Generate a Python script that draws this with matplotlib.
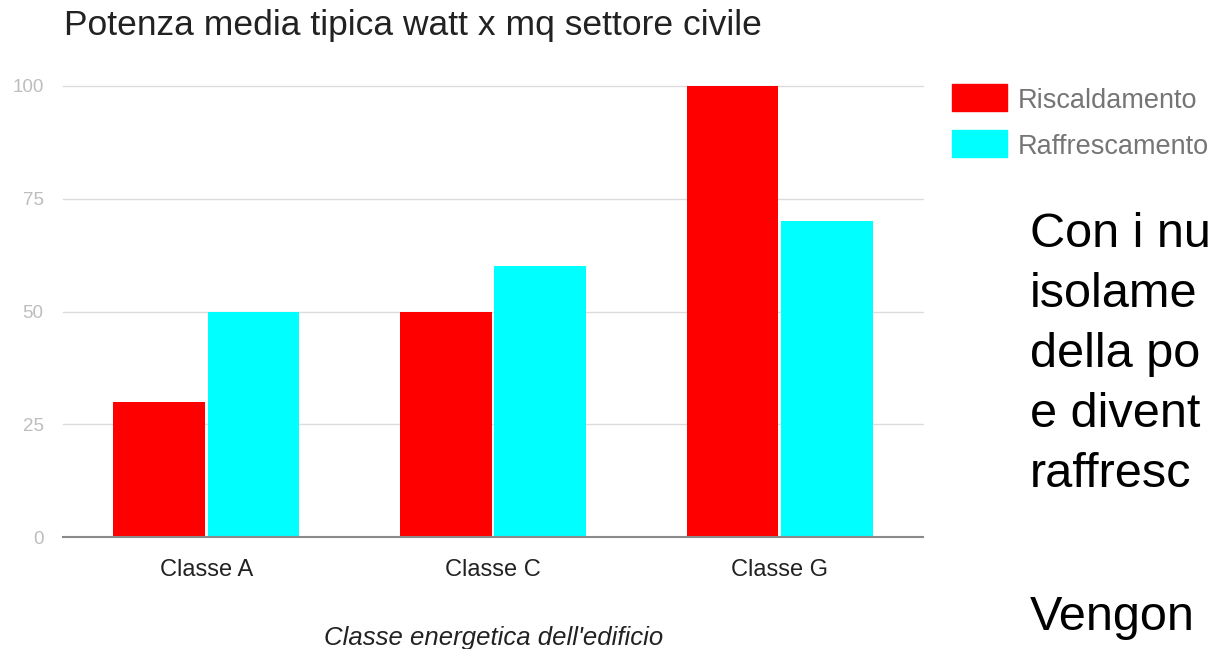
import matplotlib
matplotlib.use("Agg")
import matplotlib.pyplot as plt
import numpy as np
from matplotlib.patches import Rectangle

categories = ["Classe A", "Classe C", "Classe G"]
riscaldamento = [30, 50, 100]
raffrescamento = [50, 60, 70]
series_names = ["Riscaldamento", "Raffrescamento"]
series_colors = ["#ff0000", "#00ffff"]
yticks = [0, 25, 50, 75, 100]
title = "Potenza media tipica watt x mq settore civile"
xlabel = "Classe energetica dell'edificio"
side_lines = ["Con i nu", "isolame", "della po", "e divent", "raffresc"]
side_last = "Vengon"

plt.rcParams['font.family'] = ['Liberation Sans', 'DejaVu Sans']

W, H = 1216, 649
fig = plt.figure(figsize=(W/100, H/100), dpi=100)
ax = fig.add_axes([63/W, 1-537/H, (923-63)/W, (537-86)/H])

x = np.arange(len(categories))
w = 0.32
ax.bar(x - 0.165, riscaldamento, width=w, color=series_colors[0], zorder=3)
ax.bar(x + 0.165, raffrescamento, width=w, color=series_colors[1], zorder=3)

ax.set_xlim(-0.5, 2.5)
ax.set_ylim(0, 100)
ax.set_yticks(yticks)
ax.set_yticklabels([str(t) for t in yticks], fontsize=13.5, color="#bdbdbd")
ax.set_xticks(x)
ax.set_xticklabels(categories, fontsize=17, color="#222222")
ax.tick_params(axis='both', length=0)
ax.tick_params(axis='y', pad=14)
ax.tick_params(axis='x', pad=16)
for s in ["top", "right", "left"]:
    ax.spines[s].set_visible(False)
ax.spines["bottom"].set_color("#8a8a8a")
ax.spines["bottom"].set_linewidth(1.5)
ax.spines["bottom"].set_zorder(4)
for t in yticks[1:]:
    ax.axhline(t, color="#dcdcdc", lw=1, zorder=1, clip_on=False)

fig.text(494/W, 1-645/H, xlabel, fontsize=18.5, style="italic", color="#222222",
         va="baseline", ha="center")

fig.text(64/W, 1-35/H, title, fontsize=25.5, color="#222222", va="baseline", ha="left")

# legend
leg_y = [84, 130]
for yy, name, col in zip(leg_y, series_names, series_colors):
    fig.patches.append(Rectangle((952/W, 1-(yy+27)/H), 55/W, 27/H, color=col,
                                 transform=fig.transFigure, figure=fig))
    fig.text(1018/W, 1-(yy+13.5)/H, name, fontsize=19.5, color="#757575",
             va="center_baseline", ha="left")

for i, line in enumerate(side_lines):
    fig.text(1030/W, 1-(247+60*i)/H, line, fontsize=35, color="#000000",
             va="baseline", ha="left")
fig.text(1030/W, 1-630/H, side_last, fontsize=35, color="#000000", va="baseline", ha="left")

fig.savefig("out.png", dpi=100)
